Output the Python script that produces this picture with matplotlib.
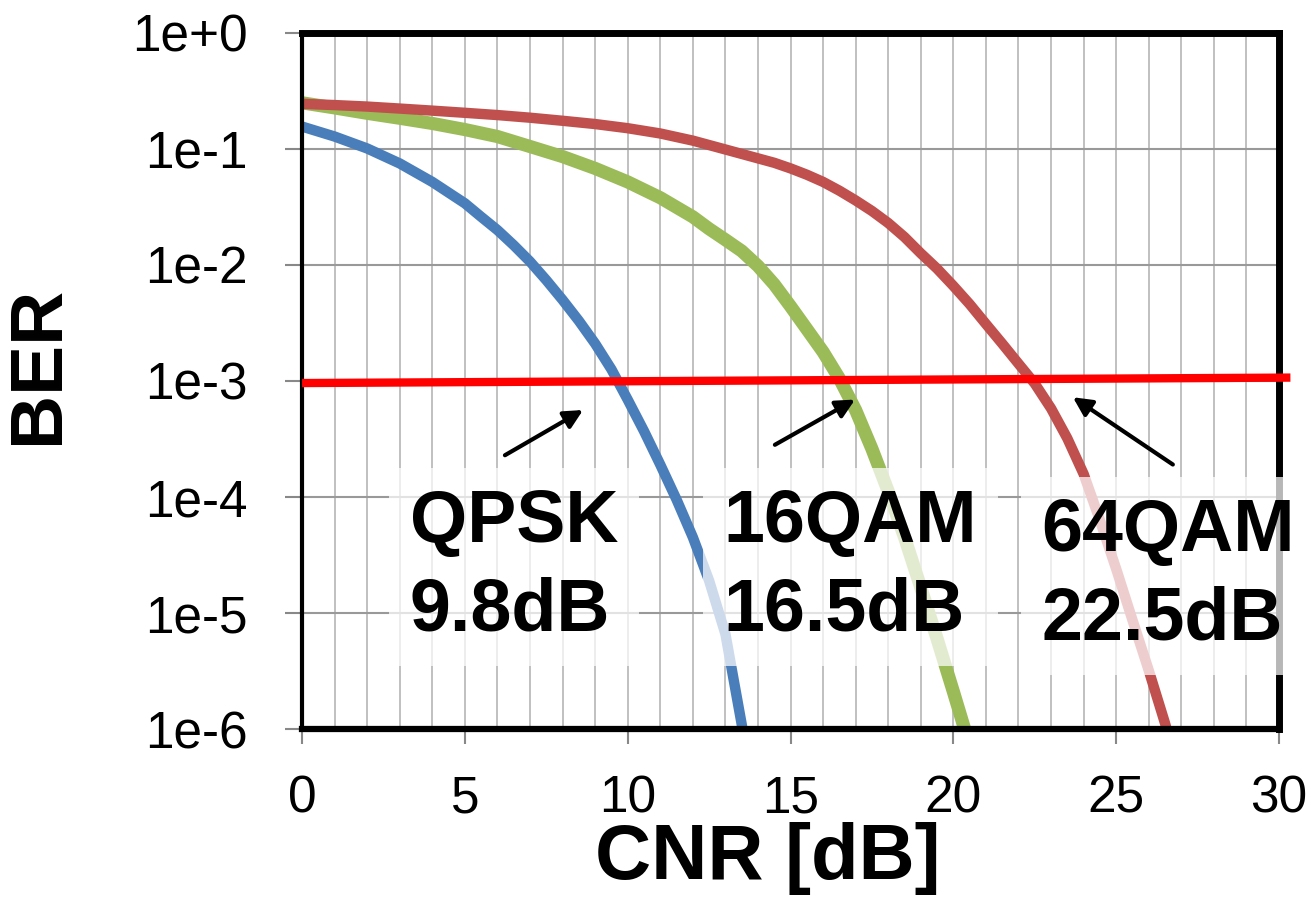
import numpy as np
import matplotlib
matplotlib.use("Agg")
from matplotlib import pyplot as plt
from matplotlib.ticker import FixedLocator, FuncFormatter, MultipleLocator

plt.rcParams["font.family"] = ["Liberation Sans", "DejaVu Sans"]

# BER curves
qpsk_cnr = [0, 1, 2, 3, 4, 5, 5.5, 6, 6.5, 7, 7.5, 8, 8.5, 9, 9.5, 10, 10.5,
            11, 11.5, 12, 12.5, 13, 13.5, 13.7]
qpsk_ber = [0.156, 0.128, 0.101, 0.075, 0.052, 0.034, 0.026, 0.020, 0.0148,
            0.0107, 7.4e-3, 5.0e-3, 3.3e-3, 2.1e-3, 1.26e-3, 6.9e-4, 3.7e-4,
            1.9e-4, 9.5e-5, 4.5e-5, 1.9e-5, 6.6e-6, 1.1e-6, 5e-7]

qam16_cnr = [0, 1, 2, 3, 4, 5, 6, 7, 8, 9, 10, 11, 12, 12.5, 13, 13.5, 14,
             14.5, 15, 15.5, 16, 16.5, 17, 17.5, 18, 18.5, 19, 19.5, 20,
             20.4, 20.6]
qam16_ber = [0.25, 0.226, 0.203, 0.184, 0.166, 0.147, 0.128, 0.105, 0.086,
             0.068, 0.052, 0.038, 0.026, 0.0205, 0.0165, 0.0132, 9.8e-3,
             6.8e-3, 4.4e-3, 2.8e-3, 1.78e-3, 1.05e-3, 5.6e-4, 2.6e-4,
             1.12e-4, 4.5e-5, 1.66e-5, 6.0e-6, 2.1e-6, 8.9e-7, 5.5e-7]

qam64_cnr = [0, 1, 2, 3, 4, 5, 6, 7, 8, 9, 10, 11, 12, 13, 14, 14.5, 15,
             15.5, 16, 16.5, 17, 17.5, 18, 18.5, 19, 19.5, 20, 20.5, 21, 21.5,
             22, 22.5, 23, 23.5, 24, 24.5, 25, 25.5, 26, 26.5, 26.8]
qam64_ber = [0.245, 0.239, 0.232, 0.223, 0.214, 0.205, 0.196, 0.186, 0.175,
             0.164, 0.151, 0.136, 0.118, 0.099, 0.083, 0.076, 0.068, 0.060,
             0.052, 0.0437, 0.036, 0.0292, 0.023, 0.0174, 0.0126, 9.3e-3,
             6.6e-3, 4.6e-3, 3.1e-3, 2.1e-3, 1.41e-3, 9.5e-4, 5.8e-4, 3.2e-4,
             1.58e-4, 6.3e-5, 2.4e-5, 8.7e-6, 3.2e-6, 1.12e-6, 5.6e-7]

# threshold line
thr_cnr = [0, 30.35]
thr_ber = [9.6e-4, 1.07e-3]

labels = ["QPSK\n9.8dB", "16QAM\n16.5dB", "64QAM\n22.5dB"]
label_pos = [(3.3, 2.5e-5), (12.95, 2.5e-5), (22.7, 2.1e-5)]
arrow_tail = [(6.23, 10 ** -3.64), (14.52, 10 ** -3.55), (26.74, 10 ** -3.72)]
arrow_head = [(8.63, 10 ** -3.25), (16.98, 10 ** -3.16), (23.67, 10 ** -3.14)]

fig = plt.figure(figsize=(13.11, 9.13), dpi=100)
ax = fig.add_axes([0.2304, 0.2015, 0.7452, 0.7624])

ax.semilogy(qpsk_cnr, qpsk_ber, color="#4A7EBB", lw=7.5, solid_capstyle="butt", zorder=2)
ax.semilogy(qam16_cnr, qam16_ber, color="#9BBB59", lw=9.5, solid_capstyle="butt", zorder=2)
ax.semilogy(qam64_cnr, qam64_ber, color="#C0504D", lw=7.5, solid_capstyle="butt", zorder=2)
ax.plot(thr_cnr, thr_ber, color="#FF0000", lw=6, solid_capstyle="butt",
        clip_on=False, zorder=3)

for (tx, ty), (hx, hy) in zip(arrow_tail, arrow_head):
    ax.annotate("", xy=(hx, hy), xytext=(tx, ty),
                arrowprops=dict(arrowstyle="-|>", color="black", lw=3,
                                mutation_scale=28, shrinkA=0, shrinkB=0),
                zorder=4)

for txt, (lx, ly) in zip(labels, label_pos):
    ax.text(lx, ly, txt, fontsize=53, fontweight="bold", ha="left", va="center",
            linespacing=1.35, zorder=6,
            bbox=dict(facecolor="white", edgecolor="none", alpha=0.72, pad=15))

ax.set_xlim(0, 30)
ax.set_ylim(1e-6, 1)
ax.xaxis.set_major_locator(MultipleLocator(5))
ax.xaxis.set_minor_locator(MultipleLocator(1))
ax.yaxis.set_major_locator(FixedLocator([10.0 ** k for k in range(-6, 1)]))
ax.yaxis.set_minor_locator(FixedLocator([]))
ax.yaxis.set_major_formatter(FuncFormatter(lambda v, p: f"1e{int(round(np.log10(v))):+d}"))

ax.grid(True, which="both", axis="x", color="#BBBBBB", lw=1.3, zorder=0)
ax.grid(True, which="major", axis="y", color="#999999", lw=1.5, zorder=0)
ax.set_axisbelow(True)

ax.tick_params(axis="both", which="major", direction="out", color="#888888",
               width=1.5, labelsize=37)
ax.tick_params(axis="y", which="major", length=12, pad=27)
ax.tick_params(axis="x", which="major", length=11, pad=22)
ax.tick_params(axis="x", which="minor", length=0)

for side, lw in [("top", 5), ("right", 5), ("bottom", 4.5), ("left", 3)]:
    ax.spines[side].set_linewidth(lw)
    ax.spines[side].set_color("black")

ax.set_xlabel("CNR [dB]", fontsize=56, fontweight="bold")
ax.set_ylabel("BER", fontsize=54, fontweight="bold")
ax.xaxis.set_label_coords(0.477, -0.134)
ax.yaxis.set_label_coords(-0.234, 0.523)
ax.xaxis.label.set_va("top")

fig.savefig("out.png", dpi=100)
